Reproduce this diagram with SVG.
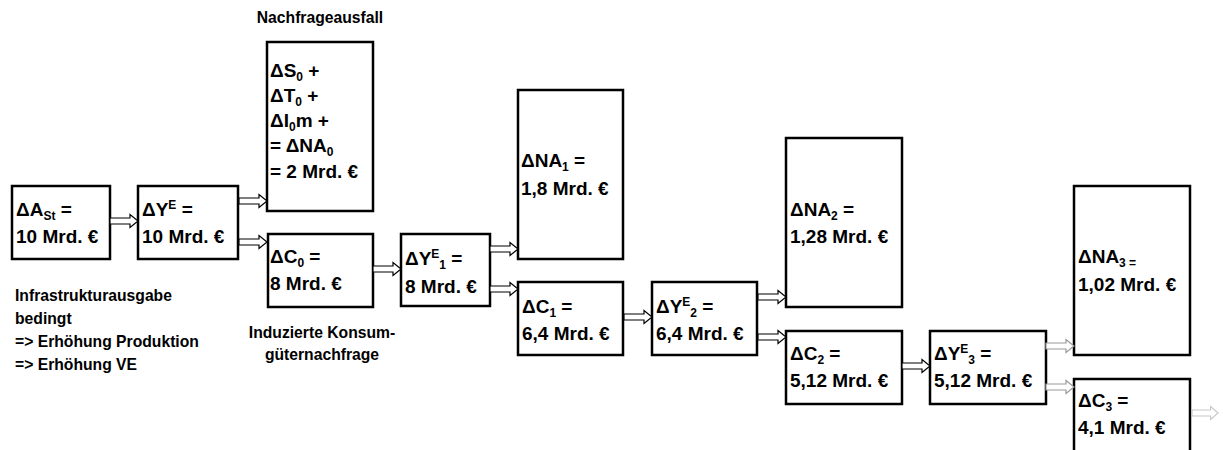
<svg xmlns="http://www.w3.org/2000/svg" width="1223" height="450" viewBox="0 0 1223 450">
<style>
.box{fill:#fff;stroke:#000;stroke-width:2.5}
.t{font-family:"Liberation Sans",Arial,sans-serif;font-weight:bold;font-size:19px;fill:#000}
.l{font-family:"Liberation Sans",Arial,sans-serif;font-weight:bold;font-size:15.7px;fill:#000}
.sub{font-size:12px}
.arr{fill:#fff;stroke:#000;stroke-width:1.2}
.g1{stroke:#999}
.g2{stroke:#c8c8c8}
</style>
<defs>
<path id="ar" d="M0,-3 H20 V-6.5 L28,0 L20,6.5 V3 H0 Z"/>
</defs>
<rect width="1223" height="450" fill="#fff"/>
<g id="nodes">
<g id="n-ast"><rect class="box" x="12" y="186" width="98" height="73"/>
<text class="t" x="16" y="216">ΔA<tspan class="sub" dy="4">St</tspan><tspan dy="-4"> =</tspan></text>
<text class="t" x="16" y="243">10 Mrd. €</text></g>
<g id="n-ye"><rect class="box" x="138" y="186" width="100" height="73"/>
<text class="t" x="142" y="216">ΔY<tspan class="sub" dy="-7">E</tspan><tspan dy="7"> =</tspan></text>
<text class="t" x="142" y="243">10 Mrd. €</text></g>
<g id="n-na0"><rect class="box" x="267" y="42" width="106" height="169"/>
<text class="t" x="270" y="77">ΔS<tspan class="sub" dy="4">0</tspan><tspan dy="-4"> +</tspan></text>
<text class="t" x="270" y="102">ΔT<tspan class="sub" dy="4">0</tspan><tspan dy="-4"> +</tspan></text>
<text class="t" x="270" y="127">ΔI<tspan class="sub" dy="4">0</tspan><tspan dy="-4">m +</tspan></text>
<text class="t" x="270" y="152">= ΔNA<tspan class="sub" dy="4">0</tspan></text>
<text class="t" x="270" y="178">= 2 Mrd. €</text></g>
<g id="n-c0"><rect class="box" x="268" y="234" width="105" height="73"/>
<text class="t" x="270" y="263">ΔC<tspan class="sub" dy="4">0</tspan><tspan dy="-4"> =</tspan></text>
<text class="t" x="270" y="290">8 Mrd. €</text></g>
<g id="n-ye1"><rect class="box" x="401" y="234" width="89" height="72"/>
<text class="t" x="405" y="265">ΔY<tspan class="sub" dy="-7">E</tspan><tspan class="sub" dy="11">1</tspan><tspan dy="-4"> =</tspan></text>
<text class="t" x="405" y="293">8 Mrd. €</text></g>
<g id="n-na1"><rect class="box" x="518" y="90" width="105" height="169"/>
<text class="t" x="521" y="167">ΔNA<tspan class="sub" dy="4">1</tspan><tspan dy="-4"> =</tspan></text>
<text class="t" x="521" y="195">1,8 Mrd. €</text></g>
<g id="n-c1"><rect class="box" x="518" y="282" width="105" height="73"/>
<text class="t" x="522" y="313">ΔC<tspan class="sub" dy="4">1</tspan><tspan dy="-4"> =</tspan></text>
<text class="t" x="522" y="340">6,4 Mrd. €</text></g>
<g id="n-ye2"><rect class="box" x="652" y="282" width="105" height="73"/>
<text class="t" x="656" y="313">ΔY<tspan class="sub" dy="-7">E</tspan><tspan class="sub" dy="11">2</tspan><tspan dy="-4"> =</tspan></text>
<text class="t" x="656" y="340">6,4 Mrd. €</text></g>
<g id="n-na2"><rect class="box" x="786" y="138" width="116" height="169"/>
<text class="t" x="790" y="216">ΔNA<tspan class="sub" dy="4">2</tspan><tspan dy="-4"> =</tspan></text>
<text class="t" x="790" y="243">1,28 Mrd. €</text></g>
<g id="n-c2"><rect class="box" x="786" y="331" width="116" height="73"/>
<text class="t" x="790" y="360">ΔC<tspan class="sub" dy="4">2</tspan><tspan dy="-4"> =</tspan></text>
<text class="t" x="790" y="387">5,12 Mrd. €</text></g>
<g id="n-ye3"><rect class="box" x="930" y="331" width="116" height="73"/>
<text class="t" x="934" y="360">ΔY<tspan class="sub" dy="-7">E</tspan><tspan class="sub" dy="11">3</tspan><tspan dy="-4"> =</tspan></text>
<text class="t" x="934" y="387">5,12 Mrd. €</text></g>
<g id="n-na3"><rect class="box" x="1074" y="186" width="116" height="169"/>
<text class="t" x="1078" y="263">ΔNA<tspan class="sub" dy="4">3 =</tspan></text>
<text class="t" x="1078" y="291">1,02 Mrd. €</text></g>
<g id="n-c3"><path class="box" d="M1074,452 V379 H1190 V452"/>
<text class="t" x="1078" y="407">ΔC<tspan class="sub" dy="4">3</tspan><tspan dy="-4"> =</tspan></text>
<text class="t" x="1078" y="434">4,1 Mrd. €</text></g>
</g>
<g id="labels">
<text class="l" x="320" y="23" text-anchor="middle">Nachfrageausfall</text>
<text class="l" x="15" y="301">Infrastrukturausgabe</text>
<text class="l" x="15" y="324">bedingt</text>
<text class="l" x="15" y="347">=&gt; Erhöhung Produktion</text>
<text class="l" x="15" y="370">=&gt; Erhöhung VE</text>
<text class="l" x="322" y="338" text-anchor="middle">Induzierte Konsum-</text>
<text class="l" x="322" y="360" text-anchor="middle">güternachfrage</text>
</g>
<g id="connectors">
<use href="#ar" class="arr" transform="translate(110,221)"/>
<use href="#ar" class="arr" transform="translate(239,201)"/>
<use href="#ar" class="arr" transform="translate(239,242)"/>
<use href="#ar" class="arr" transform="translate(373,269)"/>
<use href="#ar" class="arr" transform="translate(490,249)"/>
<use href="#ar" class="arr" transform="translate(490,289)"/>
<use href="#ar" class="arr" transform="translate(624,317)"/>
<use href="#ar" class="arr" transform="translate(758,297)"/>
<use href="#ar" class="arr" transform="translate(758,337)"/>
<use href="#ar" class="arr" transform="translate(902,366)"/>
<use href="#ar" class="arr g1" transform="translate(1046,346)"/>
<use href="#ar" class="arr g1" transform="translate(1046,387)"/>
<use href="#ar" class="arr g2" transform="translate(1192,413) scale(0.93,1)"/>
</g>
</svg>
